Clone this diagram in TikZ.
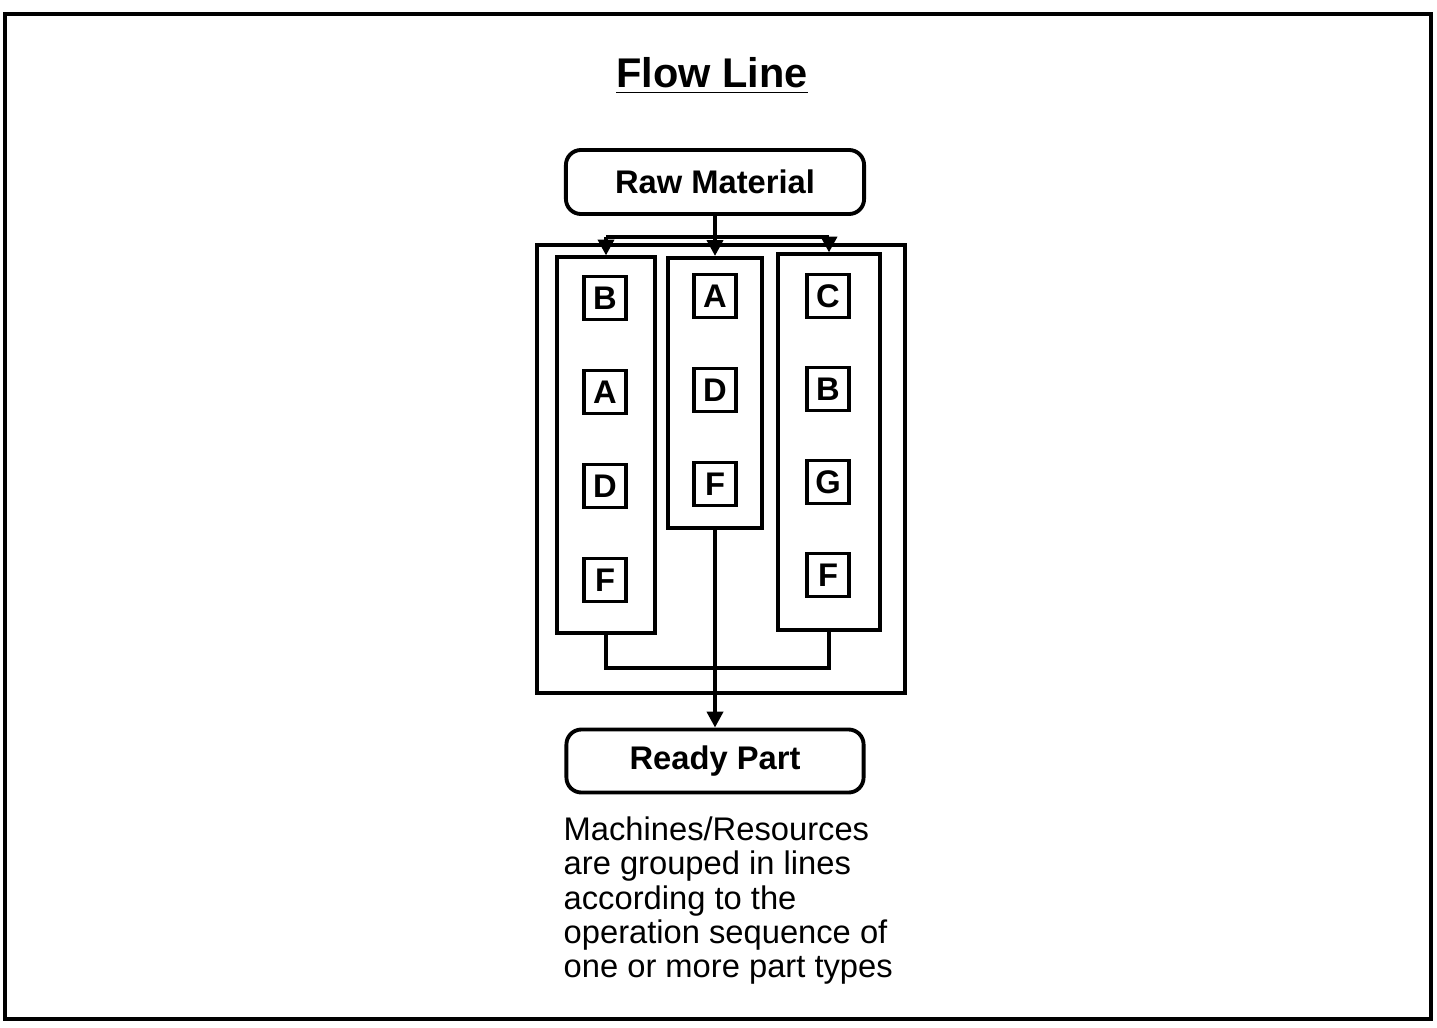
\documentclass[tikz,border=0pt]{standalone}
\usepackage{fontspec}
\setsansfont{Liberation Sans}
\usetikzlibrary{arrows.meta}

\tikzset{
    endbox/.style={draw, line width=1.1pt, rounded corners=0.15cm, minimum width=2.98cm, minimum height=0.64cm, font=\sffamily\bfseries\fontsize{9.3}{11}\selectfont},
    lane/.style={draw, line width=1.1pt, minimum width=0.97cm},
    machine/.style={draw, line width=1.1pt, minimum width=0.42cm, minimum height=0.43cm, inner sep=0pt, font=\sffamily\bfseries\fontsize{9.3}{11}\selectfont},
    link/.style={line width=1.1pt},
}

\begin{document}
\begin{tikzpicture}[x=0.01cm, y=-0.01cm, >={Triangle[length=4.5pt,width=4.5pt]}, font=\sffamily]
        \useasboundingbox (0,0) rectangle (1437,1027);
        \draw[line width=1.4pt] (5,14) rectangle (1431,1019);

        % --- Titolo ---
        \node[font=\sffamily\bfseries\fontsize{11.8}{14}\selectfont] (title) at (712,76) {\underline{Flow Line}};

        % --- Ingresso / uscita ---
        \node[endbox] (raw) at (715,182) {Raw Material};
        \node[endbox, minimum width=2.97cm, minimum height=0.63cm] (ready) at (715,761) {Ready Part};

        % --- Cella e linee ---
        \node[draw, line width=1.1pt, minimum width=3.67cm, minimum height=4.48cm] (cell) at (721,469) {};
        \node[lane, minimum width=0.98cm, minimum height=3.75cm] (laneL) at (606,445) {};
        \node[lane, minimum width=0.94cm, minimum height=2.70cm] (laneM) at (715,393) {};
        \node[lane, minimum width=1.02cm, minimum height=3.75cm] (laneR) at (829,442) {};

        % macchine
        \foreach \m [count=\i] in {B,A,D,F}
            \node[machine] (L\i) at (605,204+94*\i) {\m};
        \foreach \m [count=\i] in {A,D,F}
            \node[machine] (M\i) at (715,202+94*\i) {\m};
        \foreach \m [count=\i] in {C,B,G,F}
            \node[machine] (R\i) at (828,203+93*\i) {\m};

        % --- Collegamenti ---
        \coordinate (split) at (715,237);
        \coordinate (join) at (715,668);
        \draw[link] (raw.south) -- (split);
        \draw[link] (split -| laneL) -- (split -| laneR);
        \draw[->, link] (split -| laneL) -- (laneL.north);
        \draw[->, link] (split) -- (laneM.north);
        \draw[->, link] (split -| laneR) -- (laneR.north);

        \draw[link] (laneL.south) |- (join -| laneR) -- (laneR.south);
        \draw[->, link] (laneM.south) -- (ready.north);

        % --- Nota ---
        \node[anchor=north west, inner sep=0pt, align=left, font=\sffamily\fontsize{9.3}{9.76}\selectfont] (note) at (563,816)
            {Machines/Resources\\are grouped in lines\\according to the\\operation sequence of\\one or more part types};
    \end{tikzpicture}
\end{document}
